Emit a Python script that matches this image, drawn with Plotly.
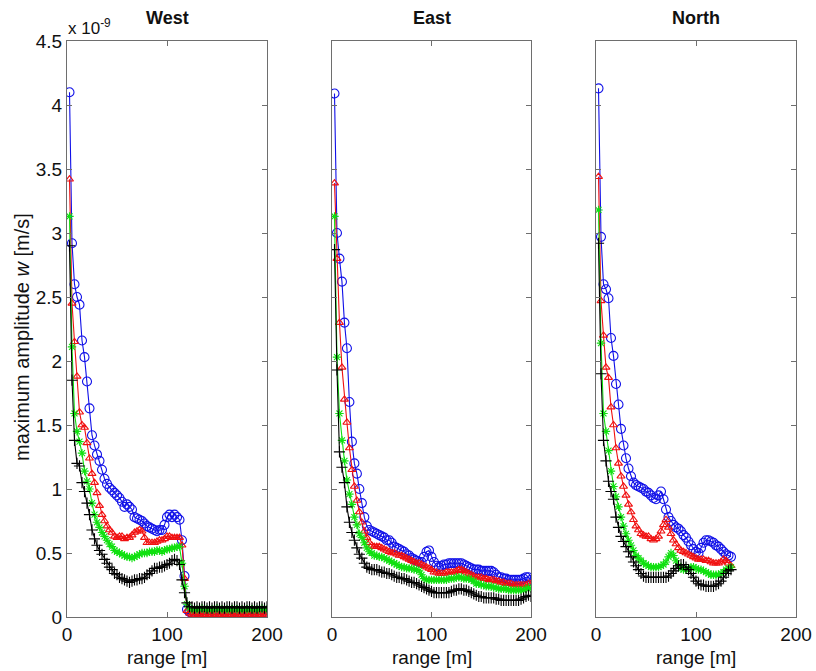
import plotly.graph_objects as go

# Range samples (m)
range_full = [2.5 * k for k in range(1, 81)]      # 2.5 ... 200 m
range_north = [2.5 * k for k in range(1, 55)]     # 2.5 ... 135 m

# Maximum amplitude w, in units of 1e-9 m/s
west_blue = [4.10, 2.92, 2.60, 2.50, 2.44, 2.16, 2.03, 1.84, 1.63, 1.42,
             1.34, 1.27, 1.22, 1.15, 1.08, 1.04, 1.01, 0.99, 0.97, 0.95,
             0.93, 0.90, 0.86, 0.88, 0.86, 0.84, 0.78, 0.77, 0.76, 0.75,
             0.73, 0.71, 0.70, 0.69, 0.68, 0.67, 0.68, 0.68, 0.72, 0.78,
             0.80, 0.78, 0.80, 0.78, 0.76, 0.60, 0.32, 0.06, 0.04, 0.03,
             0.03, 0.04, 0.03, 0.03, 0.03, 0.02, 0.03, 0.03, 0.03, 0.02,
             0.03, 0.03, 0.03, 0.03, 0.02, 0.03, 0.03, 0.03, 0.02, 0.03,
             0.03, 0.03, 0.03, 0.02, 0.03, 0.03, 0.02, 0.03, 0.03, 0.03]
west_red = [3.42, 2.45, 2.15, 1.88, 1.60, 1.50, 1.48, 1.36, 1.24, 1.12,
            1.05, 0.97, 0.87, 0.80, 0.75, 0.71, 0.68, 0.66, 0.63, 0.62,
            0.63, 0.63, 0.61, 0.62, 0.62, 0.64, 0.66, 0.67, 0.68, 0.67,
            0.62, 0.58, 0.58, 0.58, 0.58, 0.59, 0.60, 0.60, 0.61, 0.63,
            0.63, 0.62, 0.62, 0.62, 0.62, 0.56, 0.30, 0.05, 0.03, 0.02,
            0.02, 0.03, 0.02, 0.02, 0.02, 0.02, 0.02, 0.02, 0.03, 0.02,
            0.02, 0.02, 0.02, 0.02, 0.02, 0.02, 0.03, 0.02, 0.02, 0.02,
            0.02, 0.02, 0.02, 0.03, 0.02, 0.02, 0.02, 0.02, 0.02, 0.03]
west_green = [3.13, 2.11, 1.59, 1.45, 1.37, 1.28, 1.14, 1.06, 1.00, 0.89,
              0.80, 0.74, 0.70, 0.66, 0.63, 0.60, 0.57, 0.55, 0.52, 0.51,
              0.50, 0.49, 0.48, 0.47, 0.47, 0.46, 0.47, 0.48, 0.49, 0.50,
              0.50, 0.50, 0.51, 0.51, 0.51, 0.52, 0.52, 0.51, 0.52, 0.53,
              0.53, 0.54, 0.54, 0.55, 0.55, 0.42, 0.24, 0.10, 0.07, 0.06,
              0.06, 0.06, 0.06, 0.07, 0.06, 0.06, 0.06, 0.06, 0.06, 0.07,
              0.06, 0.06, 0.06, 0.06, 0.06, 0.06, 0.07, 0.06, 0.06, 0.06,
              0.06, 0.06, 0.07, 0.06, 0.06, 0.06, 0.06, 0.07, 0.06, 0.06]
west_black = [2.90, 1.85, 1.38, 1.20, 1.18, 1.05, 0.98, 0.89, 0.80, 0.68,
              0.61, 0.56, 0.52, 0.49, 0.45, 0.42, 0.39, 0.37, 0.34, 0.33,
              0.31, 0.30, 0.29, 0.28, 0.27, 0.28, 0.29, 0.29, 0.30, 0.30,
              0.31, 0.33, 0.34, 0.36, 0.38, 0.38, 0.39, 0.39, 0.40, 0.41,
              0.42, 0.44, 0.45, 0.44, 0.41, 0.29, 0.19, 0.11, 0.08, 0.08,
              0.07, 0.08, 0.07, 0.08, 0.08, 0.07, 0.08, 0.07, 0.08, 0.08,
              0.07, 0.08, 0.07, 0.08, 0.08, 0.07, 0.08, 0.08, 0.07, 0.08,
              0.07, 0.08, 0.08, 0.07, 0.08, 0.07, 0.08, 0.08, 0.07, 0.08]

east_blue = [4.09, 3.00, 2.80, 2.62, 2.30, 2.10, 1.68, 1.37, 1.20, 1.12,
             1.00, 0.89, 0.78, 0.71, 0.68, 0.67, 0.66, 0.65, 0.64, 0.63,
             0.62, 0.60, 0.60, 0.58, 0.55, 0.54, 0.53, 0.52, 0.51, 0.49,
             0.48, 0.46, 0.45, 0.44, 0.43, 0.43, 0.47, 0.51, 0.52, 0.47,
             0.43, 0.40, 0.39, 0.40, 0.41, 0.41, 0.42, 0.42, 0.42, 0.42,
             0.42, 0.42, 0.41, 0.40, 0.39, 0.38, 0.37, 0.37, 0.37, 0.36,
             0.36, 0.36, 0.36, 0.36, 0.35, 0.33, 0.31, 0.31, 0.30, 0.30,
             0.29, 0.29, 0.29, 0.29, 0.29, 0.29, 0.30, 0.31, 0.31, 0.29]
east_red = [3.39, 2.80, 2.30, 1.95, 1.70, 1.52, 1.32, 1.15, 1.02, 0.91,
            0.82, 0.74, 0.67, 0.62, 0.58, 0.56, 0.55, 0.55, 0.55, 0.54,
            0.53, 0.52, 0.51, 0.50, 0.50, 0.49, 0.48, 0.48, 0.47, 0.46,
            0.45, 0.44, 0.43, 0.42, 0.42, 0.41, 0.40, 0.39, 0.38, 0.37,
            0.35, 0.35, 0.34, 0.34, 0.34, 0.35, 0.35, 0.35, 0.35, 0.36,
            0.37, 0.37, 0.36, 0.35, 0.34, 0.33, 0.32, 0.31, 0.31, 0.31,
            0.30, 0.30, 0.29, 0.29, 0.29, 0.28, 0.28, 0.27, 0.27, 0.26,
            0.26, 0.26, 0.25, 0.25, 0.25, 0.25, 0.25, 0.25, 0.26, 0.26]
east_green = [3.13, 2.03, 1.59, 1.38, 1.22, 1.07, 0.96, 0.88, 0.78, 0.72,
              0.65, 0.62, 0.58, 0.54, 0.51, 0.50, 0.48, 0.48, 0.47, 0.47,
              0.46, 0.45, 0.44, 0.43, 0.42, 0.41, 0.40, 0.39, 0.39, 0.38,
              0.38, 0.38, 0.37, 0.37, 0.36, 0.33, 0.30, 0.29, 0.29, 0.29,
              0.29, 0.29, 0.29, 0.29, 0.29, 0.29, 0.30, 0.30, 0.30, 0.31,
              0.31, 0.31, 0.30, 0.30, 0.30, 0.29, 0.28, 0.26, 0.26, 0.25,
              0.25, 0.24, 0.24, 0.24, 0.23, 0.23, 0.22, 0.22, 0.22, 0.22,
              0.21, 0.21, 0.21, 0.21, 0.21, 0.21, 0.21, 0.22, 0.23, 0.22]
east_black = [2.87, 1.93, 1.29, 1.17, 1.05, 0.86, 0.74, 0.66, 0.60, 0.54,
              0.49, 0.46, 0.42, 0.39, 0.38, 0.37, 0.37, 0.37, 0.36, 0.35,
              0.35, 0.34, 0.34, 0.33, 0.32, 0.31, 0.31, 0.30, 0.30, 0.29,
              0.28, 0.27, 0.27, 0.26, 0.25, 0.24, 0.23, 0.22, 0.21, 0.20,
              0.19, 0.19, 0.19, 0.19, 0.19, 0.19, 0.19, 0.20, 0.21, 0.21,
              0.22, 0.22, 0.21, 0.21, 0.20, 0.19, 0.18, 0.17, 0.16, 0.16,
              0.15, 0.15, 0.15, 0.15, 0.15, 0.14, 0.14, 0.13, 0.13, 0.13,
              0.13, 0.13, 0.13, 0.13, 0.13, 0.14, 0.15, 0.16, 0.17, 0.16]

north_blue = [4.13, 2.97, 2.60, 2.56, 2.49, 2.18, 2.04, 1.82, 1.66, 1.47,
              1.34, 1.24, 1.16, 1.10, 1.05, 1.03, 1.02, 1.01, 1.00, 0.98,
              0.97, 0.95, 0.93, 0.92, 0.95, 0.98, 0.92, 0.84, 0.78, 0.75,
              0.72, 0.70, 0.69, 0.67, 0.64, 0.62, 0.59, 0.56, 0.53, 0.51,
              0.50, 0.54, 0.58, 0.60, 0.60, 0.59, 0.58, 0.56, 0.55, 0.53,
              0.51, 0.49, 0.48, 0.47]
north_red = [3.44, 2.47, 2.20, 1.95, 1.87, 1.64, 1.50, 1.32, 1.20, 1.10,
             1.02, 0.95, 0.88, 0.82, 0.76, 0.71, 0.68, 0.65, 0.64, 0.63,
             0.63, 0.61, 0.60, 0.61, 0.63, 0.67, 0.72, 0.76, 0.70, 0.65,
             0.60, 0.57, 0.54, 0.52, 0.51, 0.50, 0.49, 0.48, 0.47, 0.46,
             0.45, 0.45, 0.45, 0.44, 0.44, 0.43, 0.42, 0.42, 0.42, 0.43,
             0.45, 0.44, 0.42, 0.40]
north_green = [3.18, 2.14, 1.59, 1.45, 1.30, 1.14, 1.02, 0.94, 0.86, 0.78,
               0.71, 0.65, 0.60, 0.56, 0.52, 0.48, 0.46, 0.44, 0.42, 0.41,
               0.40, 0.39, 0.39, 0.39, 0.39, 0.40, 0.41, 0.43, 0.47, 0.50,
               0.48, 0.44, 0.40, 0.38, 0.37, 0.37, 0.38, 0.39, 0.39, 0.38,
               0.37, 0.37, 0.36, 0.35, 0.34, 0.33, 0.33, 0.33, 0.33, 0.34,
               0.35, 0.37, 0.38, 0.39]
north_black = [2.92, 1.90, 1.38, 1.22, 1.06, 0.98, 0.92, 0.78, 0.70, 0.63,
               0.59, 0.55, 0.51, 0.47, 0.43, 0.40, 0.37, 0.34, 0.32, 0.31,
               0.31, 0.31, 0.31, 0.31, 0.31, 0.31, 0.31, 0.31, 0.32, 0.34,
               0.36, 0.38, 0.40, 0.41, 0.41, 0.39, 0.37, 0.34, 0.31, 0.28,
               0.26, 0.25, 0.25, 0.24, 0.24, 0.24, 0.24, 0.25, 0.26, 0.28,
               0.31, 0.34, 0.36, 0.37]

panel_titles = ["West", "East", "North"]
y_tick_vals = [0, 0.5, 1, 1.5, 2, 2.5, 3, 3.5, 4, 4.5]
y_tick_text = ["0", "0.5", "1", "1.5", "2", "2.5", "3", "3.5", "4", "4.5"]
x_tick_vals = [0, 100, 200]
x_tick_text = ["0", "100", "200"]

W, H = 816, 671
FONT = "Liberation Sans, Arial, Helvetica, sans-serif"

# Pixel boxes of the three axes (left, right) and the shared vertical extent
panel_px = [(67, 267), (332, 531), (596, 796)]
top_px, bottom_px = 41, 617

styles = [
    dict(color="#1010e8", symbol="circle-open", size=9),
    dict(color="#f01010", symbol="triangle-up-open", size=7),
    dict(color="#10e010", symbol="asterisk-open", size=7),
    dict(color="#000000", symbol="cross-thin-open", size=8),
]

panels = [
    (range_full, [west_blue, west_red, west_green, west_black]),
    (range_full, [east_blue, east_red, east_green, east_black]),
    (range_north, [north_blue, north_red, north_green, north_black]),
]

fig = go.Figure()
for i, (xs, series) in enumerate(panels):
    suffix = "" if i == 0 else str(i + 1)
    for ys, st in zip(series, styles):
        fig.add_trace(go.Scatter(
            x=xs, y=ys, mode="lines+markers",
            xaxis="x" + suffix, yaxis="y" + suffix,
            line=dict(color=st["color"], width=1.1),
            marker=dict(symbol=st["symbol"], size=st["size"], color=st["color"],
                        line=dict(color=st["color"], width=1.1)),
            showlegend=False, hoverinfo="skip",
        ))

y_dom = [1 - bottom_px / H, 1 - top_px / H]
layout = dict(
    width=W, height=H,
    margin=dict(l=0, r=0, t=0, b=0),
    paper_bgcolor="white", plot_bgcolor="white",
    font=dict(family=FONT, size=18, color="black"),
    showlegend=False,
)
axis_common = dict(
    showgrid=False, zeroline=False, showline=True, linecolor="#6e6e6e", linewidth=1,
    mirror="ticks", ticks="inside", ticklen=5, tickcolor="#6e6e6e", tickwidth=1,
    automargin=False, tickfont=dict(family=FONT, size=19, color="#111111"),
)
annotations = []
for i, (l, r) in enumerate(panel_px):
    suffix = "" if i == 0 else str(i + 1)
    layout["xaxis" + suffix] = dict(
        axis_common, domain=[l / W, r / W], range=[0, 200],
        anchor="y" + suffix, tickvals=x_tick_vals, ticktext=x_tick_text,
    )
    layout["yaxis" + suffix] = dict(
        axis_common, domain=y_dom, range=[0, 4.5],
        anchor="x" + suffix, tickvals=y_tick_vals, ticktext=y_tick_text,
        showticklabels=(i == 0),
    )
    cx = (l + r) / 2 / W
    annotations.append(dict(
        text="<b>%s</b>" % panel_titles[i], x=cx, y=1 - 18 / H,
        xref="paper", yref="paper", xanchor="center", yanchor="middle",
        showarrow=False, font=dict(family=FONT, size=18, color="#111111"),
    ))
    annotations.append(dict(
        text="range [m]", x=cx, y=1 - 657 / H,
        xref="paper", yref="paper", xanchor="center", yanchor="middle",
        showarrow=False, font=dict(family=FONT, size=19, color="#111111"),
    ))

annotations.append(dict(
    text="maximum amplitude <i>w</i> [m/s]", x=22 / W, y=1 - 337 / H,
    xref="paper", yref="paper", xanchor="center", yanchor="middle",
    textangle=-90, showarrow=False, font=dict(family=FONT, size=20, color="#111111"),
))
annotations.append(dict(
    text="x 10<sup>-9</sup>", x=66 / W, y=1 - 27 / H,
    xref="paper", yref="paper", xanchor="left", yanchor="middle",
    showarrow=False, font=dict(family=FONT, size=17, color="#111111"),
))
layout["annotations"] = annotations

fig.update_layout(**layout)
fig.write_html("out.html")
